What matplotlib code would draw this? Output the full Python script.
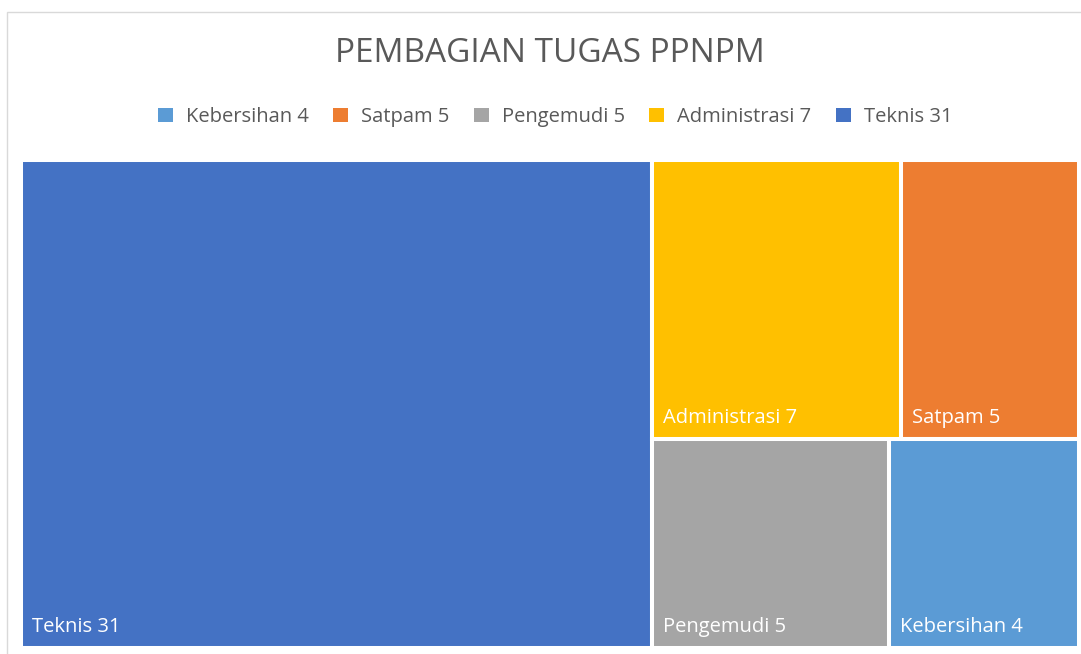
import matplotlib
matplotlib.use("agg")
from matplotlib import pyplot as plt
from matplotlib.patches import Rectangle, Patch

plt.rcParams["font.family"] = ["Open Sans", "DejaVu Sans"]

# data
labels = ["Teknis", "Administrasi", "Satpam", "Pengemudi", "Kebersihan"]
values = [31, 7, 5, 5, 4]
colors = ["#4472C4", "#FFC000", "#ED7D31", "#A5A5A5", "#5B9BD5"]
legendOrder = ["Kebersihan", "Satpam", "Pengemudi", "Administrasi", "Teknis"]
title = "PEMBAGIAN TUGAS PPNPM"


def worst(row, side):
    s = sum(row)
    return max(max(side**2 * v / s**2, s**2 / (side**2 * v)) for v in row)


def layoutRow(row, x, y, w, h):
    s = sum(row)
    rects = []
    if w >= h:
        cw = s / h
        yy = y + h
        for v in row:
            rh = v / cw
            rects.append((x, yy - rh, cw, rh))
            yy -= rh
        return rects, (x + cw, y, w - cw, h)
    rh = s / w
    xx = x
    for v in row:
        rw = v / rh
        rects.append((xx, y + h - rh, rw, rh))
        xx += rw
    return rects, (x, y, w, h - rh)


def squarify(vals, x, y, w, h):
    total = sum(vals)
    areas = [v * w * h / total for v in vals]
    rects = []
    row = []
    rect = (x, y, w, h)
    i = 0
    while i < len(areas):
        side = min(rect[2], rect[3])
        a = areas[i]
        if not row or worst(row + [a], side) <= worst(row, side):
            row.append(a)
            i += 1
        else:
            newRects, rect = layoutRow(row, *rect)
            rects += newRects
            row = []
    if row:
        newRects, rect = layoutRow(row, *rect)
        rects += newRects
    return rects


W, H = 1081, 654
fig = plt.figure(figsize=(W / 100, H / 100), dpi=100)

# chart border
fig.add_artist(Rectangle((7 / W, -0.1), 1.2, (H - 12) / H + 0.1, transform=fig.transFigure,
                         fill=False, edgecolor="#D9D9D9", linewidth=1))

left, right, top, bottom = 21, 1079, 160, 648
ax = fig.add_axes([left / W, 1 - bottom / H, (right - left) / W, (bottom - top) / H])
aw, ah = right - left, bottom - top
ax.set_xlim(0, aw)
ax.set_ylim(0, ah)
ax.axis("off")

tiles = squarify(values, 0, 0, aw, ah)
for (x, y, w, h), label, value, color in zip(tiles, labels, values, colors):
    ax.add_patch(Rectangle((x, y), w, h, facecolor=color, edgecolor="white", linewidth=2.9))
    ax.annotate(f"{label} {value}", xy=(x, y), xytext=(11, 16), textcoords="offset pixels",
                color="white", fontsize=14.5, ha="left", va="baseline")

fig.text(550 / W, 1 - 62 / H, title, ha="center", va="baseline", fontsize=24, color="#595959")

handles = []
for name in legendOrder:
    idx = labels.index(name)
    handles.append(Patch(facecolor=colors[idx], label=f"{name} {values[idx]}"))
fig.legend(handles=handles, loc="center", bbox_to_anchor=(555 / W, 1 - 117 / H), ncol=5,
           frameon=False, fontsize=14.5, handlelength=0.75, handleheight=0.75,
           handletextpad=0.65, columnspacing=1.2, labelcolor="#595959")

fig.savefig("out.png", dpi=100)
plt.close(fig)
